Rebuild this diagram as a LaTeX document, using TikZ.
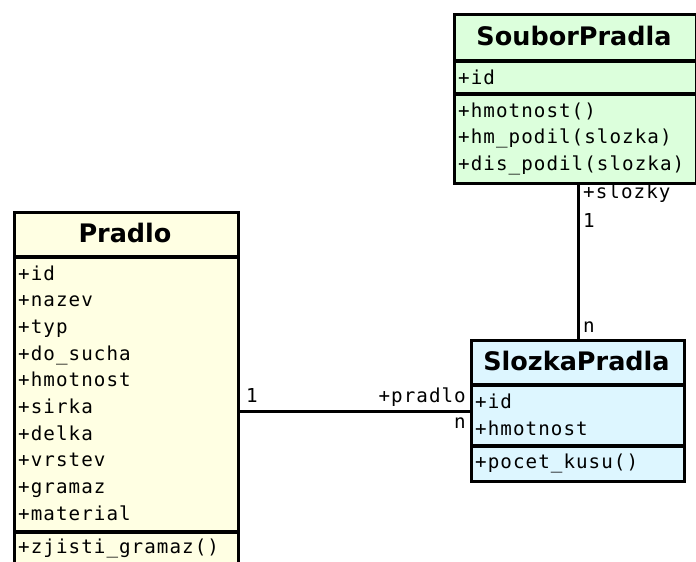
\documentclass[tikz,border=0pt]{standalone}
\usepackage{fontspec}
\setmainfont{DejaVu Sans}
\newfontfamily\monof[LetterSpace=5.5]{DejaVu Sans Mono}
\definecolor{pradlofill}{HTML}{FFFFE3}
\definecolor{souborfill}{HTML}{DCFFDC}
\definecolor{slozkafill}{HTML}{DDF6FF}
\tikzset{
  umlbox/.style={draw, line width=3.2pt, inner sep=0pt, anchor=north west},
  sepline/.style={line width=3.2pt},
  umltitle/.style={anchor=base, inner sep=0pt, font=\fontsize{25.5}{25.5}\selectfont\bfseries},
  mem/.style={anchor=base west, inner sep=0pt, font=\monof\fontsize{19.2}{19.2}\selectfont},
  meme/.style={anchor=base east, inner sep=0pt, font=\monof\fontsize{19.2}{19.2}\selectfont},
  conn/.style={line width=3.2pt}
}
\begin{document}
\begin{tikzpicture}[x=1pt,y=-1pt]
\useasboundingbox (0,0) rectangle (696,562);
\clip (0,0) rectangle (696,562);
% Pradlo
\node[umlbox, fill=pradlofill, minimum width=224pt, minimum height=364pt] (pradlo) at (13,211) {};
\draw[sepline] (13,257) -- (237,257);
\draw[sepline] (13,532) -- (237,532);
\node[umltitle] (pradloT) at (125,242) {Pradlo};
\node[mem] (p1) at (18,280) {+id};
\node[mem] (p2) at (18,306.7) {+nazev};
\node[mem] (p3) at (18,333.4) {+typ};
\node[mem] (p4) at (18,360.1) {+do\_sucha};
\node[mem] (p5) at (18,386.8) {+hmotnost};
\node[mem] (p6) at (18,413.5) {+sirka};
\node[mem] (p7) at (18,440.2) {+delka};
\node[mem] (p8) at (18,466.9) {+vrstev};
\node[mem] (p9) at (18,493.6) {+gramaz};
\node[mem] (p10) at (18,520.3) {+material};
\node[mem] (pm1) at (18,553) {+zjisti\_gramaz()};
% SouborPradla
\node[umlbox, fill=souborfill, minimum width=242pt, minimum height=169pt] (soubor) at (453,13) {};
\draw[sepline] (453,61) -- (695,61);
\draw[sepline] (453,94) -- (695,94);
\node[umltitle] (souborT) at (574,45) {SouborPradla};
\node[mem] (s1) at (458,84) {+id};
\node[mem] (sm1) at (458,117) {+hmotnost()};
\node[mem] (sm2) at (458,143.5) {+hm\_podil(slozka)};
\node[mem] (sm3) at (458,170) {+dis\_podil(slozka)};
% SlozkaPradla
\node[umlbox, fill=slozkafill, minimum width=213pt, minimum height=141pt] (slozka) at (470,339) {};
\draw[sepline] (470,385) -- (683,385);
\draw[sepline] (470,446) -- (683,446);
\node[umltitle] (slozkaT) at (576.5,370) {SlozkaPradla};
\node[mem] (z1) at (475,408) {+id};
\node[mem] (z2) at (475,435) {+hmotnost};
\node[mem] (zm1) at (475,468) {+pocet\_kusu()};
% connectors
\draw[conn] (slozka.west) -- (slozka.west -| pradlo.east);
\draw[conn] (slozka.north) -- (slozka.north |- soubor.south);
% labels
\node[mem] (l1) at (246,402) {1};
\node[meme] (l2) at (466,402) {+pradlo};
\node[meme] (l3) at (466,428) {n};
\node[mem] (l4) at (583,198) {+slozky};
\node[mem] (l5) at (583,227) {1};
\node[mem] (l6) at (583,332) {n};
\end{tikzpicture}
\end{document}
